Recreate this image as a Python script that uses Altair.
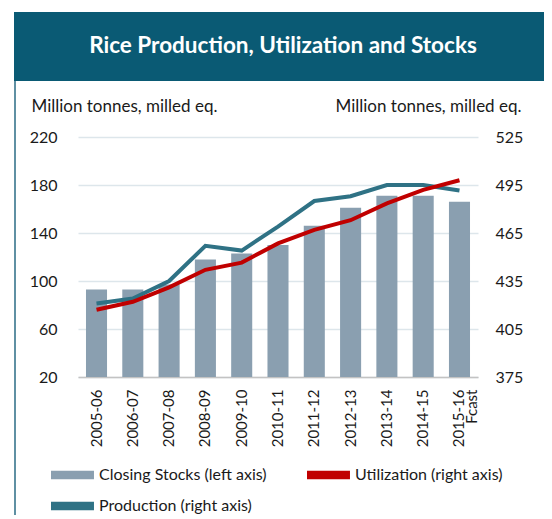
import altair as alt
import pandas as pd

title_text = "Rice Production, Utilization and Stocks"
axis_title = "Million tonnes, milled eq."
seasons = ["2005-06", "2006-07", "2007-08", "2008-09", "2009-10", "2010-11",
           "2011-12", "2012-13", "2013-14", "2014-15", "2015-16"]
stocks = [93, 93, 97, 118, 123, 130, 146, 161, 171, 171, 166]
production = [421, 424, 435, 457, 454, 469, 485, 488, 495, 495, 491.5]
utilization = [417, 422, 431, 442, 446.5, 458.5, 467, 473, 483.5, 492, 498]
left_ticks = [20, 60, 100, 140, 180, 220]
right_ticks = [375, 405, 435, 465, 495, 525]
legend_names = ["Closing Stocks (left axis)", "Production (right axis)", "Utilization (right axis)"]
legend_colors = ["#8a9fb0", "#2f7285", "#c00000"]

BAR = "#8a9fb0"
RED = "#c00000"
TEAL = "#2f7285"
HEADER = "#0a5a74"
FONT = "Lato"
TXT = "#1a1a1a"

df = pd.DataFrame({"season": seasons, "stocks": stocks,
                   "Production": production, "Utilization": utilization})
base = alt.Chart(df)

x_enc = alt.X(
    "season:N", sort=seasons,
    scale=alt.Scale(paddingInner=0.42, paddingOuter=0.22),
    axis=alt.Axis(title=None, labelAngle=-90, labelPadding=12, ticks=False,
                  domain=True, domainColor="#c3c3c3", domainWidth=1.5,
                  labelFont=FONT, labelFontSize=15, labelColor=TXT, grid=False,
                  labelLineHeight=13,
                  labelExpr="datum.value == '2015-16' ? ['2015-16', 'Fcast'] : datum.label"),
)

bars = base.transform_calculate(series="'Closing Stocks (left axis)'").mark_bar(
    color=BAR).encode(
    x=x_enc,
    y=alt.Y("stocks:Q",
            scale=alt.Scale(domain=[20, 220], nice=False, zero=False, clamp=True),
            axis=alt.Axis(orient="left", values=left_ticks, title=axis_title,
                          titleAngle=0, titleAlign="left", titleX=-47, titleY=-31,
                          titleBaseline="middle", titleFont=FONT, titleFontSize=17,
                          titleFontWeight="normal", titleColor=TXT,
                          labelFont=FONT, labelFontSize=16, labelColor=TXT,
                          labelPadding=21, ticks=False, domain=False,
                          grid=True, gridColor="#dde6eb", gridWidth=1.5)),
    color=alt.Color("series:N",
                    scale=alt.Scale(domain=legend_names, range=legend_colors),
                    legend=alt.Legend(title=None, orient="none", legendX=-28, legendY=330,
                                      columns=2, columnPadding=39, rowPadding=15,
                                      symbolType="M-1,-0.6H5.14V0.6H-1Z", symbolSize=196,
                                      symbolStrokeWidth=0, labelOffset=33,
                                      labelFont=FONT, labelFontSize=16, labelColor=TXT,
                                      labelLimit=300)),
)

lines = base.transform_fold(["Production", "Utilization"], as_=["key", "val"]).mark_line(
    strokeWidth=4).encode(
    x=x_enc,
    y=alt.Y("val:Q", scale=alt.Scale(domain=[375, 525], nice=False, zero=False),
            axis=alt.Axis(orient="right", values=right_ticks, title=axis_title,
                          titleAngle=0, titleAlign="right", titleX=43, titleY=-31,
                          titleBaseline="middle", titleFont=FONT, titleFontSize=17,
                          titleFontWeight="normal", titleColor=TXT,
                          labelFont=FONT, labelFontSize=16, labelColor=TXT,
                          labelPadding=17, ticks=False, domain=False, grid=False)),
    stroke=alt.Stroke("key:N", scale=alt.Scale(domain=["Production", "Utilization"],
                                               range=[TEAL, RED]), legend=None),
)

hdr_df = pd.DataFrame({"t": [title_text]})
header = alt.Chart(hdr_df).mark_rect(color=HEADER).encode(
    x=alt.value(-64), x2=alt.value(466), y=alt.value(-125), y2=alt.value(-56))
header_text = alt.Chart(hdr_df).mark_text(
    color="white", font=FONT, fontSize=22.5, fontWeight="bold",
    align="center", baseline="middle").encode(
    text="t:N", x=alt.value(205), y=alt.value(-91))
border_l = alt.Chart(hdr_df).mark_rule(color="#5f90a3", strokeWidth=2).encode(
    x=alt.value(-63), y=alt.value(-56), y2=alt.value(390))
border_r = alt.Chart(hdr_df).mark_rule(color="#5f90a3", strokeWidth=2).encode(
    x=alt.value(470), y=alt.value(-56), y2=alt.value(390))

chart = alt.layer(header, header_text, border_l, border_r, bars, lines).resolve_scale(
    y="independent").properties(
    width=400, height=240,
    autosize=alt.AutoSizeParams(type="none"),
    padding={"left": 70, "top": 129, "right": 66, "bottom": 138},
    background="white",
).configure_view(stroke=None)

chart.save("out.html", embed_options={"renderer": "svg", "actions": False})
